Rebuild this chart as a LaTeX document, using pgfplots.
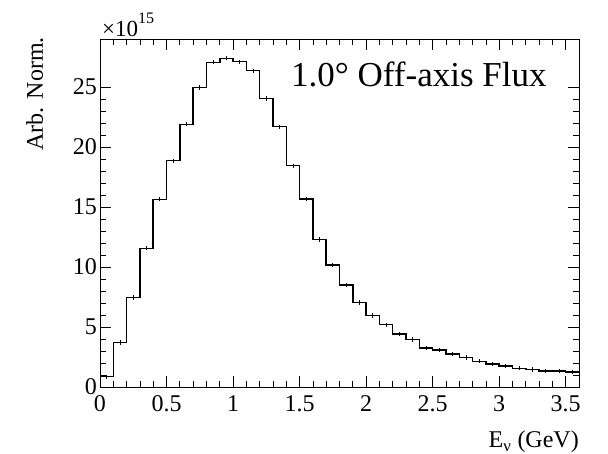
\documentclass[border=0pt]{standalone}
\usepackage{fontspec}
\setmainfont{Liberation Serif}
\usepackage{pgfplots}
\pgfplotsset{compat=1.18}
\begin{document}
\begin{tikzpicture}
\useasboundingbox (-100pt,-67pt) rectangle (508pt,387pt);
\begin{axis}[
  at={(0,0)}, anchor=south west,
  width=479pt, height=348pt, scale only axis,
  xmin=0, xmax=3.6, ymin=0, ymax=29,
  xtick={0,0.5,1,1.5,2,2.5,3,3.5},
  xticklabels={0,0.5,1,1.5,2,2.5,3,3.5},
  minor x tick num=4,
  ytick={0,5,10,15,20,25},
  minor y tick num=4,
  xtick pos=both, ytick pos=both,
  tick align=inside,
  major tick length=11pt, minor tick length=6pt,
  tick style={black, line width=0.7pt},
  axis line style={black, line width=0.8pt},
  /pgf/number format/assume math mode=true,
  ticklabel style={font=\fontsize{24}{24}\selectfont},
  xticklabel style={inner sep=0pt, yshift=-8pt},
  yticklabel style={inner sep=0pt, xshift=-3pt},
]
\addplot[const plot, black, line width=1.5pt] coordinates {
(0.0,0.86) (0.1,3.72) (0.2,7.47) (0.3,11.56) (0.4,15.64)
(0.5,18.86) (0.6,21.89) (0.7,24.97) (0.8,27.06) (0.9,27.39)
(1.0,27.11) (1.1,26.36) (1.2,24.03) (1.3,21.69) (1.4,18.44)
(1.5,15.67) (1.6,12.30) (1.7,10.17) (1.8,8.50) (1.9,7.03)
(2.0,5.97) (2.1,5.19) (2.2,4.42) (2.3,3.97) (2.4,3.25)
(2.5,3.08) (2.6,2.75) (2.7,2.47) (2.8,2.14) (2.9,1.92)
(3.0,1.75) (3.1,1.56) (3.2,1.47) (3.3,1.33) (3.4,1.33)
(3.5,1.25) (3.6,1.25)
};
\addplot[black, line width=0.8pt, draw=none, mark=none,
  error bars/.cd, y dir=both, y fixed=0.18,
  error bar style={black, line width=0.8pt}, error mark=none] coordinates {
(0.05,0.86) (0.15,3.72) (0.25,7.47) (0.35,11.56) (0.45,15.64)
(0.55,18.86) (0.65,21.89) (0.75,24.97) (0.85,27.06) (0.95,27.39)
(1.05,27.11) (1.15,26.36) (1.25,24.03) (1.35,21.69) (1.45,18.44)
(1.55,15.67) (1.65,12.30) (1.75,10.17) (1.85,8.50) (1.95,7.03)
(2.05,5.97) (2.15,5.19) (2.25,4.42) (2.35,3.97) (2.45,3.25)
(2.55,3.08) (2.65,2.75) (2.75,2.47) (2.85,2.14) (2.95,1.92)
(3.05,1.75) (3.15,1.56) (3.25,1.47) (3.35,1.33) (3.45,1.33)
(3.55,1.25)
};
\end{axis}
\node[anchor=base west, inner sep=0pt, font=\fontsize{35}{35}\selectfont] at (191pt,300pt) {1.0° Off-axis Flux};
\node[anchor=base west, inner sep=0pt, font=\fontsize{23}{23}\selectfont] at (2pt,350pt) {×10\raisebox{13pt}{\fontsize{16}{16}\selectfont 15}};
\node[anchor=base east, inner sep=0pt, font=\fontsize{24}{24}\selectfont] at (479pt,-61pt) {E\textsubscript{ν} (GeV)};
\node[anchor=base east, rotate=90, inner sep=0pt, font=\fontsize{24}{24}\selectfont] at (-57pt,350pt) {Arb. Norm.};
\end{tikzpicture}
\end{document}
